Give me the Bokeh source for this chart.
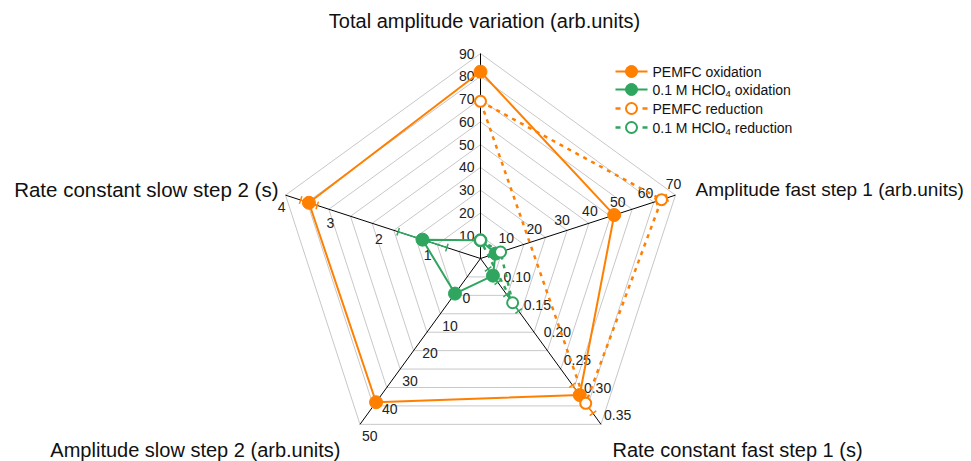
import numpy as np
from bokeh.plotting import figure
from bokeh.models import Range1d
from bokeh.core.properties import value
from bokeh.embed import file_html
from bokeh.resources import INLINE

# ---------------- data ----------------
axis_titles = ["Total amplitude variation (arb.units)",
               "Amplitude fast step 1 (arb.units)",
               "Rate constant fast step 1 (s)",
               "Amplitude slow step 2 (arb.units)",
               "Rate constant slow step 2 (s)"]
axis_min = [0, 0, 0.05, -10, 0]
axis_max = [90, 70, 0.35, 50, 4]
axis_ticks = [[10, 20, 30, 40, 50, 60, 70, 80, 90],
              [10, 20, 30, 40, 50, 60, 70],
              [0.10, 0.15, 0.20, 0.25, 0.30, 0.35],
              [0, 10, 20, 30, 40, 50],
              [1, 2, 3, 4]]
axis_tick_labels = [["10", "20", "30", "40", "50", "60", "70", "80", "90"],
                    ["10", "20", "30", "40", "50", "60", "70"],
                    ["0.10", "0.15", "0.20", "0.25", "0.30", "0.35"],
                    ["0", "10", "20", "30", "40", "50"],
                    ["1", "2", "3", "4"]]

pemfc_ox = [82, 48, 0.297, 42, 3.52]
pemfc_ox_err = [0, 0, 0.018, 0, 0.17]
hclo4_ox = [8, 5.4, 0.081, 2.7, 1.19]
hclo4_ox_err = [1, 1, 0.012, 0, 0.5]
pemfc_red = [69, 65, 0.312, np.nan, np.nan]
pemfc_red_err = [0, 2.0, 0.018, 0, 0]
hclo4_red = [8, 7.2, 0.130, np.nan, np.nan]
hclo4_red_err = [1, 1, 0.015, 0, 0]

legend_labels = [["PEMFC oxidation"],
                 ["0.1 M HClO", "4", "oxidation"],
                 ["PEMFC reduction"],
                 ["0.1 M HClO", "4", "reduction"]]

ORANGE = "#ff7f00"
GREEN = "#30a55f"
FONT = value("Liberation Sans")

# ---------------- geometry ----------------
W, H = 971, 461
cx, cy = 480, -258
R = 205
angles = np.radians([90, 18, -54, -126, 162])
n_grid = 9

p = figure(width=W, height=H, x_range=Range1d(0, W), y_range=Range1d(-H, 0),
           min_border=0, x_axis_type=None, y_axis_type=None, outline_line_color=None,
           toolbar_location=None, output_backend="svg")


def pt(i, v):
    r = (v - axis_min[i]) / (axis_max[i] - axis_min[i]) * R
    return cx + r * np.cos(angles[i]), cy + r * np.sin(angles[i])


# grid pentagons
gx, gy = [], []
for k in range(1, n_grid + 1):
    r = k * R / n_grid
    xs = [cx + r * np.cos(a) for a in angles] + [cx + r * np.cos(angles[0])]
    ys = [cy + r * np.sin(a) for a in angles] + [cy + r * np.sin(angles[0])]
    gx.append(xs)
    gy.append(ys)
p.multi_line(gx, gy, line_color="#c8c8c8", line_width=1)

# spokes
p.segment(x0=[cx] * 5, y0=[cy] * 5,
          x1=[cx + R * np.cos(a) for a in angles],
          y1=[cy + R * np.sin(a) for a in angles],
          line_color="black", line_width=1)

# tick labels: (dx, dy, align, baseline)
lab_style = [(-6, 0, "right", "middle"),
             (-2, 11, "center", "middle"),
             (3, 9, "left", "middle"),
             (2, -12, "left", "middle"),
             (-4, -12, "center", "middle")]
for i in range(5):
    dx, dy, al, bl = lab_style[i]
    xs, ys = [], []
    for t in axis_ticks[i]:
        x, y = pt(i, t)
        xs.append(x + dx)
        ys.append(y + dy)
    p.text(xs, ys, text=axis_tick_labels[i], text_font=FONT, text_font_size=value("14px"),
           text_align=al, text_baseline=bl, text_color="#222222")

# axis titles
title_pos = [(484, -20, "center", "20px"), (695, -189, "left", "19px"),
             (612, -449, "left", "20px"), (340, -449, "right", "20px"),
             (278, -189, "right", "20.5px")]
for i in range(5):
    x, y, al, fs = title_pos[i]
    p.text([x], [y], text=[axis_titles[i]], text_font=FONT, text_font_size=value(fs),
           text_align=al, text_baseline="middle", text_color="#111111")


def series(vals, errs, color, dash, filled):
    idx = [i for i in range(5) if not np.isnan(vals[i])]
    pts = [pt(i, vals[i]) for i in idx]
    xs = [q[0] for q in pts] + [pts[0][0]]
    ys = [q[1] for q in pts] + [pts[0][1]]
    if dash:
        p.line(xs, ys, line_color=color, line_width=2.5, line_dash="4 5")
    else:
        p.line(xs, ys, line_color=color, line_width=2)
    # error bars along axis
    sx0, sy0, sx1, sy1 = [], [], [], []
    for i in idx:
        e = errs[i]
        if e <= 0:
            continue
        a = angles[i]
        nx, ny = -np.sin(a), np.cos(a)
        x0, y0 = pt(i, vals[i] - e)
        x1, y1 = pt(i, vals[i] + e)
        sx0 += [x0, x0 - 4 * nx, x1 - 4 * nx]
        sy0 += [y0, y0 - 4 * ny, y1 - 4 * ny]
        sx1 += [x1, x0 + 4 * nx, x1 + 4 * nx]
        sy1 += [y1, y0 + 4 * ny, y1 + 4 * ny]
    if sx0:
        p.segment(sx0, sy0, sx1, sy1, line_color=color, line_width=1.5)
    mx = [q[0] for q in pts]
    my = [q[1] for q in pts]
    if filled:
        p.scatter(mx, my, marker="circle", size=13, fill_color=color, line_color=color)
    else:
        p.scatter(mx, my, marker="circle", size=11, fill_color="white", line_color=color,
                  line_width=2)


series(pemfc_ox, pemfc_ox_err, ORANGE, False, True)
series(hclo4_ox, hclo4_ox_err, GREEN, False, True)
series(pemfc_red, pemfc_red_err, ORANGE, True, False)
series(hclo4_red, hclo4_red_err, GREEN, True, False)

# legend (manual, to allow subscript)
leg_rows = [(-71, ORANGE, True), (-89, GREEN, True), (-108, ORANGE, False), (-127, GREEN, False)]
for (y, col, filled), parts in zip(leg_rows, legend_labels):
    if filled:
        p.line([615, 647], [y, y], line_color=col, line_width=2)
        p.scatter([631], [y], marker="circle", size=12, fill_color=col, line_color=col)
    else:
        p.segment([615, 642], [y, y], [620, 647], [y, y], line_color=col, line_width=2.5)
        p.scatter([631], [y], marker="circle", size=11, fill_color="white", line_color=col,
                  line_width=2)
    tx = 652
    if len(parts) == 1:
        p.text([tx], [y], text=parts, text_font=FONT, text_font_size=value("14px"),
               text_align="left", text_baseline="middle", text_color="#111111")
    else:
        w0 = 5.223 * 14
        p.text([tx], [y], text=[parts[0]], text_font=FONT, text_font_size=value("14px"),
               text_align="left", text_baseline="middle", text_color="#111111")
        p.text([tx + w0], [y - 4], text=[parts[1]], text_font=FONT,
               text_font_size=value("9.5px"), text_align="left", text_baseline="middle",
               text_color="#111111")
        p.text([tx + w0 + 0.556 * 9.5 + 0.278 * 14], [y], text=[parts[2]], text_font=FONT,
               text_font_size=value("14px"), text_align="left", text_baseline="middle",
               text_color="#111111")

open("out.html", "w").write(file_html(p, INLINE))
